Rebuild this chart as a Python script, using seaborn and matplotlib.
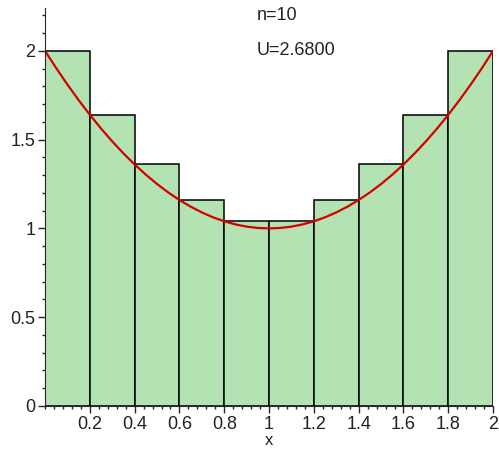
import seaborn as sns
import matplotlib.pyplot as plt
import numpy as np
from matplotlib.ticker import MultipleLocator

# bar (upper sum) data, n=10 on [0, 2]
bar_left = [0.0, 0.2, 0.4, 0.6, 0.8, 1.0, 1.2, 1.4, 1.6, 1.8]
bar_height = [2.0, 1.64, 1.36, 1.16, 1.04, 1.04, 1.16, 1.36, 1.64, 2.0]
bar_width = 0.2

# curve
curve_x = [0.0, 0.05, 0.1, 0.15, 0.2, 0.25, 0.3, 0.35, 0.4, 0.45, 0.5,
           0.55, 0.6, 0.65, 0.7, 0.75, 0.8, 0.85, 0.9, 0.95, 1.0,
           1.05, 1.1, 1.15, 1.2, 1.25, 1.3, 1.35, 1.4, 1.45, 1.5,
           1.55, 1.6, 1.65, 1.7, 1.75, 1.8, 1.85, 1.9, 1.95, 2.0]
curve_y = [2.0, 1.9025, 1.81, 1.7225, 1.64, 1.5625, 1.49, 1.4225, 1.36, 1.3025, 1.25,
           1.2025, 1.16, 1.1225, 1.09, 1.0625, 1.04, 1.0225, 1.01, 1.0025, 1.0,
           1.0025, 1.01, 1.0225, 1.04, 1.0625, 1.09, 1.1225, 1.16, 1.2025, 1.25,
           1.3025, 1.36, 1.4225, 1.49, 1.5625, 1.64, 1.7225, 1.81, 1.9025, 2.0]

xticks = [0.2, 0.4, 0.6, 0.8, 1, 1.2, 1.4, 1.6, 1.8, 2]
xtick_labels = ["0.2", "0.4", "0.6", "0.8", "1", "1.2", "1.4", "1.6", "1.8", "2"]
yticks = [0, 0.5, 1, 1.5, 2]
ytick_labels = ["0", "0.5", "1", "1.5", "2"]

sns.set_style("ticks")
plt.rcParams['font.family'] = ['Liberation Sans', 'DejaVu Sans']

fig = plt.figure(figsize=(4.99, 4.5), dpi=100)
ax = fig.add_axes([0.0902, 0.0978, 0.898, 0.884])

mids = np.array(bar_left) + bar_width / 2
edges = bar_left + [bar_left[-1] + bar_width]
sns.histplot(x=mids, weights=bar_height, bins=edges, ax=ax,
             color="#b3e3b3", alpha=1, edgecolor="black", linewidth=1.1)
sns.lineplot(x=curve_x, y=curve_y, ax=ax, color="#d40000", linewidth=1.6)

ax.set_xlim(0, 2)
ax.set_ylim(0, 2.24)
ax.set_xticks(xticks)
ax.set_xticklabels(xtick_labels, fontsize=13, color="#222222")
ax.set_yticks(yticks)
ax.set_yticklabels(ytick_labels, fontsize=13, color="#222222")
ax.xaxis.set_minor_locator(MultipleLocator(0.04))
ax.yaxis.set_minor_locator(MultipleLocator(0.1))
ax.tick_params(which="major", length=5, width=1, pad=2)
ax.tick_params(which="minor", length=2.5, width=1)
ax.set_ylabel("")
ax.set_xlabel("x", fontsize=12, labelpad=0, color="#222222")

sns.despine(ax=ax)
ax.spines['left'].set_bounds(0, 2.24)
ax.spines['bottom'].set_bounds(0, 2)

ax.text(0.945, 2.2, "n=10", fontsize=13, va="center", color="#222222")
ax.text(0.945, 2.0, "U=2.6800", fontsize=13, va="center", color="#222222")

fig.savefig("out.png", dpi=100)
